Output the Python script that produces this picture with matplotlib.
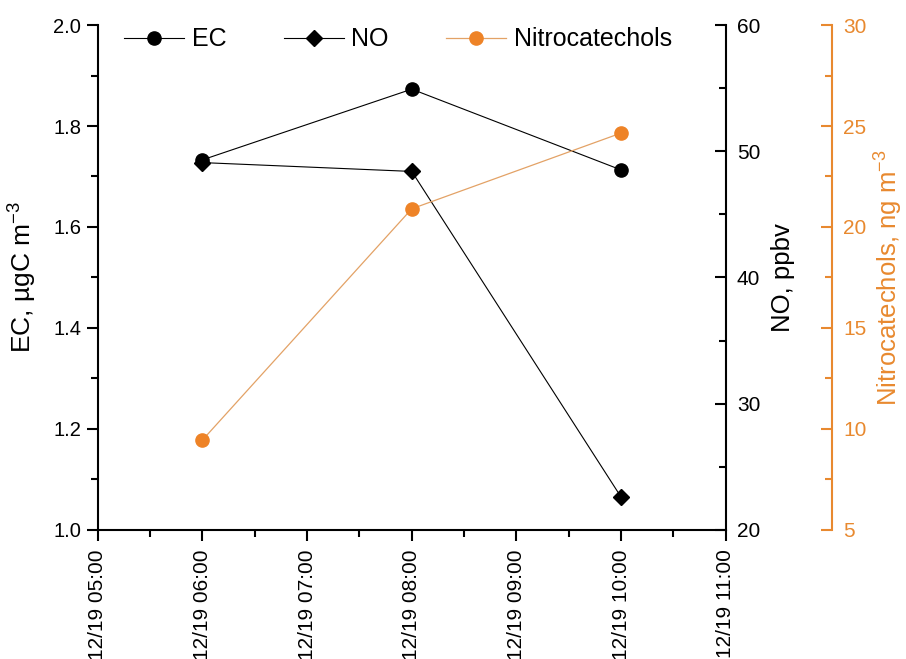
import matplotlib
matplotlib.use("Agg")
import matplotlib.pyplot as plt
from matplotlib.ticker import MultipleLocator, FixedLocator, FormatStrFormatter

plt.rcParams['font.family'] = ['Liberation Sans', 'DejaVu Sans']
plt.rcParams['mathtext.fontset'] = 'custom'
plt.rcParams['mathtext.rm'] = 'Liberation Sans'
plt.rcParams['mathtext.it'] = 'Liberation Sans'

# Data
hours = [6, 8, 10]
ec = [1.733, 1.873, 1.713]
no = [49.1, 48.4, 22.6]
nitro = [9.45, 20.9, 24.65]
tick_hours = [5, 6, 7, 8, 9, 10, 11]
tick_labels = ['12/19 05:00', '12/19 06:00', '12/19 07:00', '12/19 08:00',
               '12/19 09:00', '12/19 10:00', '12/19 11:00']

orange = '#E8892F'
orange_marker = '#EE8327'
orange_line = '#E3A266'

fig = plt.figure(figsize=(9.06, 6.59), dpi=100)
ax = fig.add_axes([0.108, 0.196, 0.693, 0.766])
ax2 = ax.twinx()
ax3 = ax.twinx()

l1, = ax.plot(hours, ec, color='black', lw=0.8, marker='o', ms=9.5, label='EC')
l2, = ax2.plot(hours, no, color='black', lw=0.8, marker='D', ms=8.5, label='NO')
l3, = ax3.plot(hours, nitro, color=orange_line, lw=0.9, marker='o', ms=9.5,
               mfc=orange_marker, mec=orange_marker, label='Nitrocatechols')

ax.set_xlim(5, 11)
ax.set_ylim(1.0, 2.0)
ax2.set_ylim(20, 60)
ax3.set_ylim(5, 30)

ax.xaxis.set_major_locator(FixedLocator(tick_hours))
ax.set_xticklabels(tick_labels, rotation=90)
ax.xaxis.set_minor_locator(MultipleLocator(0.5))
ax.yaxis.set_major_locator(MultipleLocator(0.2))
ax.yaxis.set_minor_locator(MultipleLocator(0.1))
ax.yaxis.set_major_formatter(FormatStrFormatter('%.1f'))
ax2.yaxis.set_major_locator(MultipleLocator(10))
ax2.yaxis.set_minor_locator(MultipleLocator(5))
ax3.yaxis.set_major_locator(MultipleLocator(5))
ax3.yaxis.set_minor_locator(MultipleLocator(2.5))

for a in (ax, ax2, ax3):
    a.spines['top'].set_visible(False)
    for s in a.spines.values():
        s.set_linewidth(1.5)

ax.spines['right'].set_visible(False)
ax2.spines['left'].set_visible(False)
ax3.spines['left'].set_visible(False)
ax2.spines['bottom'].set_visible(False)
ax3.spines['bottom'].set_visible(False)

ax.tick_params(axis='y', which='major', direction='out', length=8, width=1.5,
               labelsize=14.5, pad=4)
ax.tick_params(axis='x', which='major', direction='out', length=8, width=1.5,
               labelsize=15, pad=6)
ax.tick_params(axis='both', which='minor', direction='out', length=5, width=1.5)
ax2.tick_params(axis='y', which='major', direction='in', length=8, width=1.5,
                labelsize=15, pad=8)
ax2.tick_params(axis='y', which='minor', direction='in', length=5, width=1.5)

ax3.spines['right'].set_position(('axes', 1.169))
ax3.spines['right'].set_color(orange)
ax3.tick_params(axis='y', which='major', direction='in', length=8, width=1.5,
                labelsize=15, colors=orange, pad=8)
ax3.tick_params(axis='y', which='minor', direction='in', length=5, width=1.5, colors=orange)

ax.set_ylabel(r'EC, µgC m$^{-3}$', fontsize=19, labelpad=10)
ax2.set_ylabel('NO, ppbv', fontsize=18.5, labelpad=8)
ax3.set_ylabel(r'Nitrocatechols, ng m$^{-3}$', fontsize=18.5, color=orange, labelpad=5)

leg = ax.legend(handles=[l1, l2, l3], loc='upper left', ncol=3, frameon=False,
                fontsize=18, bbox_to_anchor=(0.006, 1.04), handlelength=2.4,
                columnspacing=2.3, handletextpad=0.3)

fig.savefig('out.png', dpi=100)
